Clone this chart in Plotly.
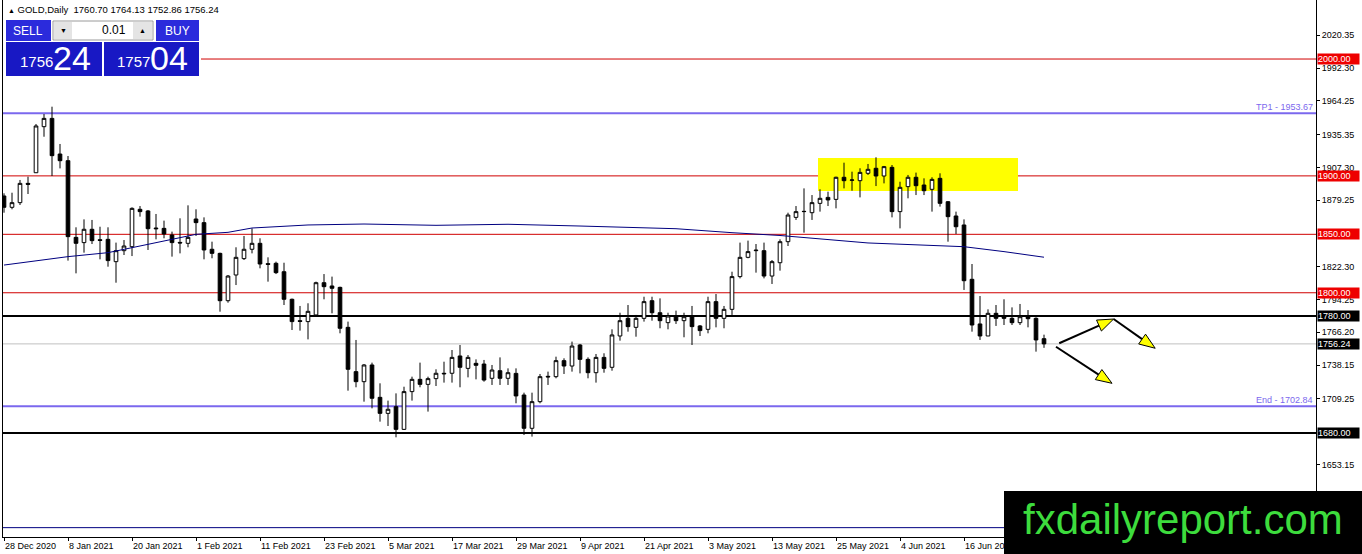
import pandas as pd
import plotly.graph_objects as go

# --- data ------------------------------------------------------------------
HOLIDAYS = ["2021-01-01", "2021-04-02"]
dates = [d.strftime("%Y-%m-%d") for d in pd.bdate_range("2020-12-28", "2021-06-30")
         if d.strftime("%Y-%m-%d") not in HOLIDAYS]

tick_labels = ["28 Dec 2020", "8 Jan 2021", "20 Jan 2021", "1 Feb 2021", "11 Feb 2021",
               "23 Feb 2021", "5 Mar 2021", "17 Mar 2021", "29 Mar 2021", "9 Apr 2021",
               "21 Apr 2021", "3 May 2021", "13 May 2021", "25 May 2021", "4 Jun 2021",
               "16 Jun 2021"]

opens = [1882.8, 1873.1, 1877.1, 1893.6, 1902.7, 1942.1, 1949.2, 1918.7, 1913.0, 1847.4,
         1842.9, 1854.3, 1845.4, 1845.7, 1826.6, 1836.0, 1839.4, 1871.4, 1870.0, 1855.4,
         1855.1, 1849.4, 1843.1, 1842.3, 1863.1, 1860.0, 1837.2, 1833.7, 1793.2, 1815.2,
         1829.2, 1837.2, 1842.3, 1824.9, 1825.2, 1818.0, 1794.4, 1776.1, 1775.3, 1781.0,
         1808.6, 1805.8, 1804.6, 1770.4, 1732.5, 1723.9, 1738.2, 1710.5, 1696.8, 1702.5,
         1683.1, 1715.4, 1725.9, 1721.6, 1726.5, 1730.5, 1731.1, 1745.9, 1735.3, 1739.6,
         1739.0, 1726.8, 1733.3, 1726.8, 1731.0, 1712.5, 1684.0, 1706.8, 1728.5, 1728.2,
         1741.9, 1737.3, 1755.3, 1743.0, 1731.6, 1744.7, 1736.2, 1763.0, 1778.1, 1770.4,
         1778.1, 1793.2, 1782.9, 1774.4, 1780.1, 1776.1, 1780.1, 1771.6, 1768.7, 1792.4,
         1778.1, 1785.8, 1813.8, 1830.3, 1836.0, 1836.0, 1814.3, 1825.7, 1843.7, 1864.5,
         1869.4, 1868.5, 1876.5, 1881.6, 1879.9, 1898.8, 1896.2, 1895.9, 1902.2, 1906.5,
         1899.9, 1907.3, 1869.4, 1890.8, 1898.8, 1892.2, 1888.5, 1897.9, 1877.9, 1865.7,
         1858.0, 1811.5, 1773.3, 1763.0, 1782.4, 1779.5, 1778.1, 1774.4, 1779.5, 1778.1,
         1760.70]
highs = [1885.1, 1885.6, 1896.5, 1899.3, 1944.4, 1952.9, 1959.2, 1927.3, 1917.0, 1856.0,
         1862.8, 1862.3, 1856.5, 1856.0, 1842.9, 1845.1, 1873.1, 1874.2, 1870.8, 1867.4,
         1861.7, 1852.3, 1863.7, 1874.8, 1871.4, 1864.5, 1843.7, 1834.3, 1815.2, 1838.9,
         1848.6, 1855.1, 1846.6, 1830.3, 1826.6, 1825.7, 1795.0, 1788.7, 1791.0, 1809.5,
         1816.0, 1813.8, 1805.2, 1775.3, 1759.6, 1739.0, 1740.2, 1722.5, 1707.7, 1713.9,
         1719.6, 1728.2, 1740.2, 1728.2, 1734.5, 1741.0, 1751.0, 1755.3, 1746.7, 1743.0,
         1742.5, 1738.2, 1744.7, 1735.3, 1735.3, 1714.5, 1714.5, 1730.5, 1732.5, 1745.3,
         1743.9, 1758.2, 1756.2, 1744.7, 1747.6, 1748.2, 1768.7, 1782.9, 1789.5, 1781.0,
         1796.6, 1796.6, 1795.2, 1782.9, 1784.7, 1782.9, 1788.7, 1772.4, 1796.6, 1798.9,
         1788.7, 1818.0, 1842.9, 1844.6, 1841.7, 1842.9, 1828.0, 1845.7, 1868.5, 1874.2,
         1889.3, 1883.6, 1888.5, 1886.5, 1899.3, 1911.3, 1903.6, 1906.5, 1910.2, 1915.9,
         1908.5, 1909.3, 1895.0, 1900.8, 1902.8, 1897.9, 1898.8, 1902.2, 1878.5, 1869.4,
         1862.8, 1824.6, 1797.2, 1785.8, 1789.5, 1794.4, 1787.5, 1790.4, 1785.2, 1779.0,
         1764.13]
lows = [1868.5, 1871.4, 1875.1, 1884.5, 1902.7, 1933.5, 1899.9, 1906.4, 1827.5, 1816.6,
        1834.3, 1841.7, 1828.6, 1822.3, 1808.6, 1832.3, 1831.4, 1865.1, 1836.6, 1845.7,
        1846.6, 1830.9, 1833.7, 1838.9, 1848.6, 1828.6, 1829.5, 1783.8, 1791.5, 1806.6,
        1828.0, 1833.7, 1820.9, 1809.5, 1816.0, 1789.5, 1768.1, 1767.6, 1760.1, 1779.5,
        1794.4, 1782.4, 1765.3, 1716.2, 1719.1, 1706.8, 1701.1, 1689.7, 1686.0, 1676.3,
        1682.6, 1707.7, 1719.1, 1698.3, 1720.2, 1723.1, 1723.1, 1719.1, 1727.6, 1725.9,
        1723.9, 1721.1, 1721.1, 1721.1, 1705.4, 1678.3, 1676.9, 1705.4, 1721.1, 1726.8,
        1730.5, 1732.5, 1731.0, 1726.8, 1723.1, 1731.6, 1733.3, 1759.0, 1766.7, 1762.4,
        1775.3, 1776.1, 1769.6, 1768.7, 1773.3, 1761.9, 1755.3, 1763.0, 1765.3, 1770.4,
        1769.6, 1781.0, 1812.3, 1829.5, 1817.2, 1812.3, 1807.5, 1818.9, 1840.0, 1862.3,
        1851.4, 1862.3, 1869.4, 1874.2, 1872.2, 1889.3, 1887.3, 1881.6, 1900.8, 1891.3,
        1893.6, 1864.5, 1855.1, 1880.8, 1883.6, 1883.6, 1869.4, 1873.7, 1843.7, 1850.3,
        1802.4, 1766.7, 1759.6, 1763.0, 1771.6, 1772.4, 1772.4, 1772.4, 1770.4, 1749.6,
        1752.86]
closes = [1873.1, 1877.1, 1893.6, 1892.8, 1942.7, 1949.2, 1917.3, 1913.0, 1848.0, 1842.3,
          1854.3, 1844.6, 1844.8, 1827.5, 1836.0, 1840.0, 1872.2, 1869.4, 1854.8, 1854.8,
          1850.3, 1842.9, 1842.6, 1847.4, 1860.0, 1836.6, 1833.7, 1793.2, 1814.3, 1830.3,
          1837.2, 1842.3, 1824.6, 1824.3, 1817.2, 1794.4, 1775.3, 1775.5, 1784.1, 1808.6,
          1805.2, 1803.8, 1769.6, 1734.5, 1723.9, 1738.2, 1709.7, 1696.8, 1700.3, 1683.1,
          1715.4, 1725.9, 1721.6, 1726.5, 1731.1, 1731.0, 1744.7, 1736.2, 1744.7, 1737.9,
          1725.3, 1733.9, 1726.8, 1731.6, 1711.7, 1684.0, 1706.8, 1728.2, 1728.0, 1741.9,
          1737.3, 1754.4, 1743.0, 1731.6, 1744.7, 1735.3, 1763.9, 1776.1, 1771.0, 1778.1,
          1792.4, 1782.9, 1776.1, 1780.1, 1776.1, 1779.5, 1771.0, 1767.6, 1792.4, 1778.1,
          1785.8, 1813.8, 1830.3, 1835.2, 1836.4, 1814.3, 1826.6, 1843.7, 1866.5, 1869.4,
          1869.6, 1877.1, 1880.8, 1879.4, 1898.8, 1895.9, 1896.5, 1903.0, 1905.6, 1899.9,
          1907.9, 1869.4, 1890.2, 1898.8, 1891.6, 1887.3, 1897.0, 1876.5, 1865.1, 1856.5,
          1810.3, 1772.4, 1763.0, 1782.4, 1778.1, 1778.1, 1774.4, 1779.5, 1777.8, 1759.6,
          1756.24]

# moving average (navy line), sampled by bar number
ma_bars = [0, 8, 13, 24, 28, 31, 38, 45, 54, 63, 72, 77, 84, 91, 97, 108, 120, 125, 130]
ma_values = [1823.7, 1830.9, 1834.3, 1850.0, 1851.7, 1855.4, 1858.0, 1858.8, 1857.7, 1858.6,
             1857.1, 1856.0, 1854.8, 1851.4, 1849.0, 1842.6, 1839.4, 1835.2, 1830.4]

red_levels = [2000.00, 1900.00, 1850.00, 1800.00]
black_levels = [1780.00, 1680.00]
tp_level = 1953.67
end_level = 1702.84
bid = 1756.24
floor_level = 1599.0

zone_bars = [101.75, 126.75]
zone_prices = [1887.1, 1915.3]

# (bar, price) tail -> tip
arrows = [((131.9, 1756.8), (138.7, 1777.5)),
          ((138.7, 1777.5), (143.9, 1752.5)),
          ((131.5, 1753.8), (138.5, 1722.5))]

ytick_vals = [2020.35, 1992.30, 1964.25, 1935.35, 1907.30, 1879.25, 1822.30,
              1794.25, 1766.20, 1738.15, 1709.25, 1653.15]

header = "GOLD,Daily  1760.70 1764.13 1752.86 1756.24"

# --- geometry ---------------------------------------------------------------
W, H = 1362, 554
ML, MR, MT, MB = 3, 46, 0, 17
PW, PH = W - ML - MR, H - MT - MB
XR = [-0.125, 164]
YR = [1591.0, 2050.5]
SX = PW / (XR[1] - XR[0])
SY = PH / (YR[1] - YR[0])
FONT = "Liberation Sans"


def fx(x):
    return (x - ML) / PW


def fy(y):
    return 1 - (y - MT) / PH


fig = go.Figure()
fig.add_trace(go.Candlestick(
    x=dates, open=opens, high=highs, low=lows, close=closes,
    increasing=dict(line=dict(color="black", width=1), fillcolor="white"),
    decreasing=dict(line=dict(color="black", width=1), fillcolor="black"),
    whiskerwidth=0, showlegend=False, hoverinfo="skip"))
fig.add_trace(go.Scatter(
    x=[dates[i] for i in ma_bars], y=ma_values, mode="lines",
    line=dict(color="#000080", width=1), showlegend=False, hoverinfo="skip"))

shapes = []
shapes.append(dict(type="rect", xref="x", yref="y", x0=zone_bars[0], x1=zone_bars[1],
                   y0=zone_prices[0], y1=zone_prices[1], fillcolor="#ffff00",
                   line=dict(width=0), layer="below"))


def hline(level, color, width):
    shapes.append(dict(type="line", xref="paper", yref="y", x0=0, x1=1, y0=level, y1=level,
                       line=dict(color=color, width=width), layer="below"))


for lv in red_levels:
    hline(lv, "#d00000", 1)
for lv in black_levels:
    hline(lv, "black", 2)
hline(tp_level, "#7b68ee", 2)
hline(end_level, "#7b68ee", 2)
hline(bid, "#c0c0c0", 1)
hline(floor_level, "#000080", 1)

# arrows: black line + yellow head
for tail, tip in arrows:
    dx = (tip[0] - tail[0]) * SX
    dy = -(tip[1] - tail[1]) * SY
    n = (dx * dx + dy * dy) ** 0.5
    ux, uy = dx / n, dy / n
    bx, by = -16 * ux, -16 * uy

    def to_data(ox, oy):
        return tip[0] + ox / SX, tip[1] - oy / SY

    base = to_data(bx, by)
    shapes.append(dict(type="line", xref="x", yref="y", x0=tail[0], y0=tail[1],
                       x1=base[0], y1=base[1], line=dict(color="black", width=2)))
    p1 = to_data(bx - 6 * uy, by + 6 * ux)
    p2 = to_data(bx + 6 * uy, by - 6 * ux)
    path = "M {},{} L {},{} L {},{} Z".format(tip[0], tip[1], p1[0], p1[1], p2[0], p2[1])
    shapes.append(dict(type="path", xref="x", yref="y", path=path,
                       fillcolor="#ffff00", line=dict(color="black", width=1)))


def box(x0, y0, x1, y1, fill, line=None):
    shapes.append(dict(type="rect", xref="paper", yref="paper", x0=fx(x0), x1=fx(x1),
                       y0=fy(y1), y1=fy(y0), fillcolor=fill,
                       line=line or dict(width=0), layer="above"))


# one-click trading panel
box(3, 17, 201, 78, "white")
box(6, 20, 51, 41, "#2b2bdc")
box(53, 21, 153, 40, "white", dict(color="#9a9a9a", width=1))
box(54, 22, 72, 39, "#e4e4e4")
box(133, 22, 152, 39, "#e4e4e4")
box(156, 20, 199, 41, "#2b2bdc")
box(6, 42, 102, 76, "#1818c4")
box(104, 42, 199, 76, "#1818c4")
# watermark
box(1004, 491, 1370, 560, "black")

fig.update_layout(shapes=shapes)

annotations = []


def label(x, y, text, size, color, anchor="center", family=FONT):
    annotations.append(dict(xref="paper", yref="paper", x=fx(x), y=fy(y), text=text,
                            showarrow=False, xanchor=anchor, yanchor="middle",
                            font=dict(family=family, size=size, color=color)))


label(6, 10, "<span style='font-size:7px'>▲</span> " + header, 9.5, "black", "left")
label(28, 31, "SELL", 12, "white")
label(63, 30, "▼", 7, "black")
label(128, 30, "0.01", 12, "black", "right")
label(142, 30, "▲", 7, "black")
label(177, 31, "BUY", 12, "white")
label(36, 61, "1756", 15, "white")
label(72, 58, "24", 34, "white")
label(133, 61, "1757", 15, "white")
label(169, 58, "04", 34, "white")
label(1183, 519, "fxdailyreport.com", 42, "#3ddc3d")

# price tags on the axis
for lv, bg in [(2000.00, "#ee0000"), (1900.00, "#ee0000"), (1850.00, "#ee0000"),
               (1800.00, "#ee0000"), (1780.00, "black"), (bid, "black"), (1680.00, "black")]:
    annotations.append(dict(xref="paper", yref="y", x=1, y=lv, xanchor="left", xshift=1,
                            text="{:.2f}".format(lv), showarrow=False, bgcolor=bg,
                            width=41, height=10, align="left", borderpad=0,
                            font=dict(family=FONT, size=9, color="white")))

for lv, name in [(tp_level, "TP1"), (end_level, "End")]:
    annotations.append(dict(xref="paper", yref="y", x=1, y=lv, xanchor="right",
                            yanchor="bottom", xshift=-1, yshift=-1,
                            text="{} - {:.2f}".format(name, lv), showarrow=False,
                            font=dict(family=FONT, size=9, color="#7b68ee")))

fig.update_layout(
    annotations=annotations,
    width=W, height=H,
    margin=dict(l=ML, r=MR, t=MT, b=MB, autoexpand=False),
    paper_bgcolor="white", plot_bgcolor="white",
    boxgap=0.35,
    xaxis=dict(type="category", categoryorder="array", categoryarray=dates, range=XR,
               rangeslider=dict(visible=False), tickmode="array", tickvals=dates[::8],
               ticktext=tick_labels, ticks="outside", ticklen=3, tickcolor="black",
               ticklabelposition="outside right", showline=True, linecolor="black",
               mirror=True, showgrid=False, zeroline=False,
               tickfont=dict(family=FONT, size=9, color="black")),
    yaxis=dict(side="right", range=YR, tickmode="array", tickvals=ytick_vals,
               ticktext=["{:.2f}".format(v) for v in ytick_vals], ticks="outside",
               ticklen=3, tickcolor="black", showline=True, linecolor="black",
               mirror=True, showgrid=False, zeroline=False,
               tickfont=dict(family=FONT, size=9, color="black")),
)

# the page's default body margin would shift the fixed-size figure
fig.write_html("out.html", config={"displayModeBar": False},
               post_script="document.body.style.margin='0';")
